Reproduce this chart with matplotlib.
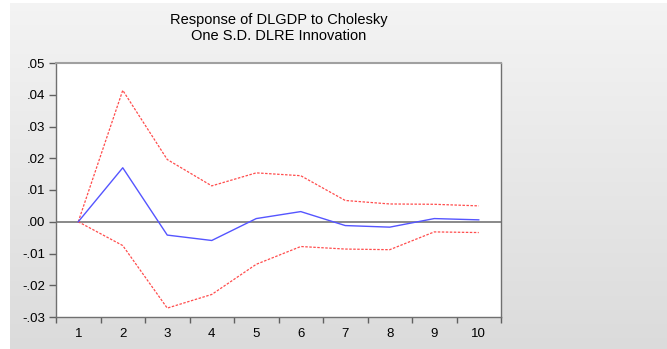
import numpy as np
import matplotlib
matplotlib.use('Agg')
import matplotlib.pyplot as plt

# Dane
okresy = [1, 2, 3, 4, 5, 6, 7, 8, 9, 10]
odpowiedz = [0.0, 0.0170, -0.0042, -0.0059, 0.0010, 0.0032, -0.0012, -0.0017, 0.0010, 0.0006]
gorna = [0.0, 0.0414, 0.0196, 0.0113, 0.0154, 0.0145, 0.0067, 0.0056, 0.0055, 0.0050]
dolna = [0.0, -0.0075, -0.0272, -0.0229, -0.0134, -0.0078, -0.0086, -0.0088, -0.0032, -0.0034]
y_ticks = [-0.03, -0.02, -0.01, 0.00, 0.01, 0.02, 0.03, 0.04, 0.05]
y_labels = ['-.03', '-.02', '-.01', '.00', '.01', '.02', '.03', '.04', '.05']

plt.rcParams['font.family'] = ['Liberation Sans', 'DejaVu Sans']

W, H = 667, 349
fig = plt.figure(figsize=(W / 100, H / 100), dpi=100)
fig.patch.set_facecolor('white')

# tlo z gradientem (szary panel)
bg = fig.add_axes([10 / W, 0, (W - 10) / W, (H - 3) / H])
grad = np.linspace(0.955, 0.86, 256).reshape(-1, 1)
bg.imshow(np.dstack([grad, grad, grad]), aspect='auto', extent=[0, 1, 0, 1], origin='upper')
bg.set_axis_off()

# glowny wykres
left, right, top, bottom = 56, 501, 63, 317
ax = fig.add_axes([left / W, 1 - bottom / H, (right - left) / W, (bottom - top) / H])
ax.set_facecolor('white')

ax.axhline(0, color='#808080', linewidth=1.3, zorder=1)
ax.plot(okresy, gorna, color='#ff4c4c', linewidth=0.9, linestyle=(0, (2, 1.2)), zorder=2)
ax.plot(okresy, dolna, color='#ff4c4c', linewidth=0.9, linestyle=(0, (2, 1.2)), zorder=2)
ax.plot(okresy, odpowiedz, color='#5555ff', linewidth=1.0, zorder=3)

ax.set_xlim(0.5, 10.5)
ax.set_ylim(-0.03, 0.05)
ax.set_yticks(y_ticks)
ax.set_yticklabels(y_labels)
ax.set_xticks(np.arange(0.5, 11, 1.0))
ax.set_xticklabels([])
ax.set_xticks(okresy, minor=True)
ax.set_xticklabels([str(o) for o in okresy], minor=True)
ax.tick_params(axis='x', which='major', direction='out', length=4, color='#606060', width=1)
ax.tick_params(axis='x', which='minor', length=0, pad=8, labelsize=9.5)
ax.tick_params(axis='y', direction='out', length=5, color='#606060', width=1, labelsize=9.5, pad=3)

for s in ax.spines.values():
    s.set_color('#707070')
    s.set_linewidth(1.0)
ax.spines['top'].set_color('#a0a0a0')
ax.spines['top'].set_linewidth(1.5)

fig.text((left + right) / 2 / W, 1 - 20 / H, 'Response of DLGDP to Cholesky', ha='center', va='center', fontsize=10.5)
fig.text((left + right) / 2 / W, 1 - 36 / H, 'One S.D. DLRE Innovation', ha='center', va='center', fontsize=10.5)

fig.savefig('out.png', dpi=100, facecolor=fig.get_facecolor())
